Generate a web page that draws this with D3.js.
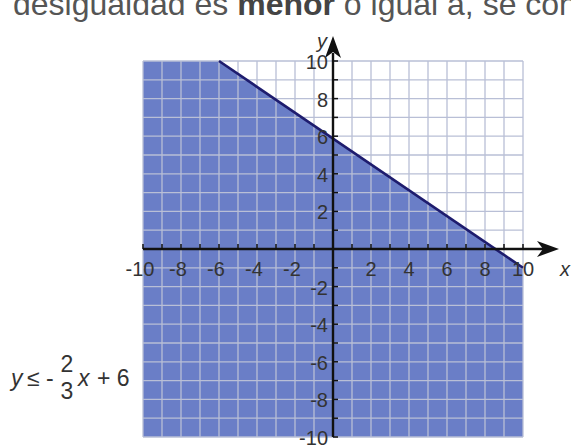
<!DOCTYPE html>
<html>
<head>
<meta charset="utf-8">
<script src="https://d3js.org/d3.v7.min.js"></script>
<style>
  body { margin: 0; background: #fff; }
  svg { display: block; font-family: "Liberation Sans", Arial, sans-serif; }
</style>
</head>
<body>
<div id="chart"></div>
<script>
// data
const gridValues = [-10,-9,-8,-7,-6,-5,-4,-3,-2,-1,0,1,2,3,4,5,6,7,8,9,10];
const xLabels = [-10,-8,-6,-4,-2,2,4,6,8,10];
const yLabels = [-10,-8,-6,-4,-2,2,4,6,8,10];
const boundary = [[-6,10],[10,-1]];
const shaded = [[-10,10],[-6,10],[10,-1],[10,-10],[-10,-10]];

const W = 571, H = 447;
const svg = d3.select('#chart').append('svg')
  .attr('width', W).attr('height', H);

const x = d3.scaleLinear().domain([-10,10]).range([143,523]);
const y = d3.scaleLinear().domain([-10,10]).range([437,61]);

// heading cut off at the top
const head = svg.append('text')
  .attr('x', 13).attr('y', 15)
  .attr('font-size', 32)
  .attr('fill', '#555');
head.append('tspan').text('desigualdad es ');
head.append('tspan').attr('font-weight', 'bold').attr('fill', '#444').text('menor');
head.append('tspan').text(' o igual a, se con');

// shaded region
svg.append('path')
  .datum(shaded)
  .attr('d', d3.line().x(d => x(d[0])).y(d => y(d[1])).curve(d3.curveLinearClosed))
  .attr('fill', '#6a7ec7');

// grid
const g = svg.append('g').attr('stroke', '#b9bfd6').attr('stroke-width', 1.3);
g.selectAll('line.v').data(gridValues).enter().append('line')
  .attr('x1', d => x(d)).attr('x2', d => x(d))
  .attr('y1', y(-10)).attr('y2', y(10));
g.selectAll('line.h').data(gridValues).enter().append('line')
  .attr('y1', d => y(d)).attr('y2', d => y(d))
  .attr('x1', x(-10)).attr('x2', x(10));

// boundary line
svg.append('path')
  .datum(boundary)
  .attr('d', d3.line().x(d => x(d[0])).y(d => y(d[1])))
  .attr('stroke', '#1e1c6e').attr('stroke-width', 2.6).attr('fill', 'none');

// axes
const ax = svg.append('g').attr('stroke', '#111');
ax.append('line').attr('x1', x(-10)).attr('x2', x(10) + 22)
  .attr('y1', y(0)).attr('y2', y(0)).attr('stroke-width', 2.4);
ax.append('line').attr('y1', y(-10)).attr('y2', y(10) - 8)
  .attr('x1', x(0)).attr('x2', x(0)).attr('stroke-width', 2.4);
ax.selectAll('line.xt').data(gridValues.filter(d => d !== 0)).enter().append('line')
  .attr('x1', d => x(d)).attr('x2', d => x(d))
  .attr('y1', y(0)).attr('y2', y(0) - 5).attr('stroke-width', 1.5);
ax.selectAll('line.yt').data(gridValues.filter(d => d !== 0)).enter().append('line')
  .attr('y1', d => y(d)).attr('y2', d => y(d))
  .attr('x1', x(0)).attr('x2', x(0) + 5).attr('stroke-width', 1.5);

// arrow heads
const xe = x(10) + 36, ye = y(10) - 25;
svg.append('path')
  .attr('d', `M${xe},${y(0)} L${xe - 22},${y(0) - 8} L${xe - 16},${y(0)} L${xe - 22},${y(0) + 8} Z`)
  .attr('fill', '#111');
svg.append('path')
  .attr('d', `M${x(0)},${ye} L${x(0) - 8},${ye + 22} L${x(0)},${ye + 16} L${x(0) + 8},${ye + 22} Z`)
  .attr('fill', '#111');

// tick labels
svg.selectAll('text.xl').data(xLabels).enter().append('text')
  .attr('x', d => x(d) - (d < 0 ? 3 : 0)).attr('y', y(0) + 27)
  .attr('text-anchor', 'middle').attr('font-size', 20).attr('fill', '#333')
  .text(d => d);
svg.selectAll('text.yl').data(yLabels).enter().append('text')
  .attr('x', x(0) - 5).attr('y', d => y(d) + 8)
  .attr('text-anchor', 'end').attr('font-size', 20).attr('fill', '#333')
  .text(d => d);

// axis names
svg.append('text').attr('x', x(10) + 37).attr('y', y(0) + 27)
  .attr('font-size', 20).attr('font-style', 'italic').attr('fill', '#333').text('x');
svg.append('text').attr('x', x(0) - 16).attr('y', ye + 12)
  .attr('font-size', 20).attr('font-style', 'italic').attr('fill', '#333').text('y');

// inequality
const eq = svg.append('g').attr('font-size', 23).attr('fill', '#333');
eq.append('text').attr('x', 11).attr('y', 386).attr('font-style', 'italic').text('y');
eq.append('text').attr('x', 27).attr('y', 386).text('≤');
eq.append('text').attr('x', 46).attr('y', 386).text('-');
eq.append('text').attr('x', 67).attr('y', 372).attr('text-anchor', 'middle').text('2');
eq.append('text').attr('x', 67).attr('y', 399).attr('text-anchor', 'middle').text('3');
eq.append('text').attr('x', 78).attr('y', 386).attr('font-style', 'italic').text('x');
eq.append('text').attr('x', 97).attr('y', 386).text('+ 6');
</script>
</body>
</html>
